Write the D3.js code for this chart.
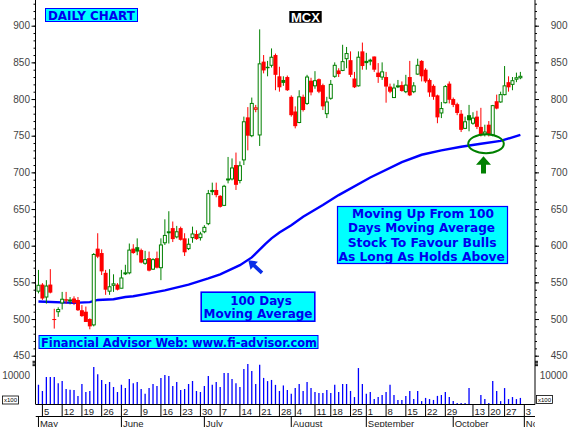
<!DOCTYPE html>
<html>
<head>
  <meta charset="utf-8">
  <title>MCX Daily Chart</title>
  <script src="https://cdnjs.cloudflare.com/ajax/libs/d3/7.8.5/d3.min.js"></script>
  <style>
    body { margin: 0; background: #fff; }
    svg text { font-family: "Liberation Sans", Arial, sans-serif; }
    .box text { font-family: "DejaVu Sans", Verdana, sans-serif; font-weight: bold; fill: #0000ee; }
  </style>
</head>
<body>
<svg id="chart" width="570" height="427"></svg>
<script>
// one entry per trading day, 2 May .. 31 Oct
const openP = [538,547,530,547,500,510,522,527,525,528,526,512,510,500,492,596,590,563,538,546,547,542,562,563,596,598,594,576,583,568,583,570,604,618,624,612,624,610,596,611,616,611,619,630,676,676,668,655,690,691,710,689,717,775,750,786,751,851,844,846,860,831,826,830,803,783,768,803,794,825,818,827,819,780,801,831,839,839,855,853,828,818,865,852,852,858,836,830,830,817,802,817,819,810,830,810,834,852,840,826,818,805,781,795,821,800,793,780,760,778,767,776,762,752,765,751,797,796,806,823,820,827,829];
const highP = [567,549,553,568,514,516,537,537,530,531,530,519,517,501,590,617,595,567,568,561,549,567,574,603,602,610,596,593,592,583,592,610,636,647,633,627,626,617,610,626,621,619,628,676,686,686,669,683,721,719,727,715,776,789,802,792,895,860,852,869,862,844,831,832,805,790,812,806,833,829,838,828,821,803,826,850,842,874,871,865,837,865,877,863,855,858,849,850,837,821,821,826,824,833,852,823,855,853,842,828,820,806,796,819,824,802,795,785,776,792,782,784,788,765,770,792,806,810,845,831,830,836,837];
const lowP = [535,526,521,535,487,503,513,521,520,519,511,503,496,486,490,583,560,533,533,537,539,542,560,561,589,587,576,574,565,567,569,553,601,603,605,610,607,586,594,604,608,607,617,628,669,666,652,654,685,689,676,685,710,730,748,782,736,835,831,843,812,810,818,811,776,760,767,783,792,805,814,808,785,774,799,829,830,838,842,830,815,817,840,840,846,837,822,826,795,808,802,815,810,808,804,808,833,824,822,803,799,767,774,794,794,789,778,755,759,756,765,759,749,749,749,749,786,795,805,810,812,823,827];
const closeP = [546,528,545,536,499,513,527,525,526,522,512,504,496,490,588,585,565,540,544,548,540,556,563,594,590,592,577,581,566,581,570,601,614,619,609,619,608,591,602,616,609,616,625,671,673,669,653,681,691,706,683,709,769,750,794,788,848,839,842,857,833,816,822,812,778,763,803,785,830,809,825,810,790,796,820,846,834,851,862,833,816,857,845,849,853,840,830,837,817,810,815,818,811,819,805,818,846,831,824,809,803,775,787,817,799,792,781,758,769,771,774,762,751,755,751,791,787,806,818,816,825,829,831];
// volume in hundreds of shares
const volume = [6700,4600,9400,9400,9400,7300,8000,5300,5000,4900,2900,7000,4200,4600,12900,10400,8400,7000,7700,6000,4200,6700,5600,8700,7300,7700,5300,3600,5600,7000,6300,9100,10100,9800,6300,7700,4900,5300,7000,8000,4600,4200,6300,9800,6700,7700,6000,10800,10800,8700,7300,6000,12200,13900,11500,7000,13600,9100,8000,8400,6700,4600,6500,4900,3600,5600,7000,4600,7700,5600,4200,3900,3900,4900,3900,6700,4200,7000,7000,4600,2500,12500,7000,3600,4200,1800,2500,3200,4200,6700,3200,1500,1500,2900,4600,1800,4600,1100,2200,1800,1500,2900,3200,4200,2500,1100,450,450,450,5600,0,0,3200,1800,450,8000,4600,1100,5600,1800,2500,1800,2200];

// 100 day moving average, read at a few days
const maDay = [0, 9, 13, 15, 19, 22, 24, 27, 29, 32, 38, 43, 46, 51, 54, 57.4, 59, 61, 64, 67, 72, 76, 84, 92, 97, 102, 107, 112, 117, 122];
const maVal = [524, 522, 523, 526, 527, 530, 531, 534, 536, 539, 547, 555.5, 561, 573.5, 584, 602, 610, 618, 628, 639.5, 655.5, 669, 693, 714, 724, 730, 735, 739, 743, 751];

const priceTicks = [450, 500, 550, 600, 650, 700, 750, 800, 850, 900];
const weekDay = [1, 6, 11, 16, 21, 26, 31, 36, 41, 46, 51, 56, 61, 65, 70, 74, 79, 83, 88, 93, 98, 103, 110, 114, 118, 123];
const weekLbl = ["5","12","19","26","2","9","16","23","30","7","14","21","28","4","11","18","25","1","8","15","22","29","13","20","27","3"];
const monthDay = [0, 21, 42, 64, 83, 105, 123];
const monthLbl = ["May","June","July","August","September","October","November"];

const svg = d3.select("#chart");
const left = 35.5, right = 535;

const x = d3.scaleLinear().domain([-0.75, 125.7]).range([left, right]);
const y = d3.scaleLinear().domain([450, 900]).range([355.7, 25.7]);
const yv = d3.scaleLinear().domain([0, 10000]).range([404.3, 375.3]);

const green = "#008000", red = "#ff0000";

// axes
function priceAxis(axisFn, xpos, anchor, dx) {
  const g = svg.append("g").attr("transform", `translate(${xpos},0)`);
  g.call(axisFn(y).tickValues(d3.range(450, 940, 10)).tickSize(2).tickFormat(""));
  g.call(g2 => g2.select(".domain").remove());
  const gm = svg.append("g").attr("transform", `translate(${xpos},0)`);
  gm.call(axisFn(y).tickValues(priceTicks).tickSize(4).tickFormat(""));
  gm.select(".domain").remove();
  svg.append("g").selectAll("text").data(priceTicks).join("text")
    .attr("x", dx).attr("y", d => y(d) + 3.5)
    .attr("text-anchor", anchor)
    .attr("font-size", 10).attr("fill", "#444")
    .text(d => d);
  // volume axis
  const gv = svg.append("g").attr("transform", `translate(${xpos},0)`);
  gv.call(axisFn(yv).tickValues([10000]).tickSize(4).tickFormat(""));
  gv.call(axisFn(yv).tickValues([13500, 14000, 14500, 15000]).tickSize(3).tickFormat(""));
  gv.selectAll(".domain").remove();
  svg.append("text").attr("x", dx).attr("y", yv(10000) + 3.5)
    .attr("text-anchor", anchor).attr("font-size", 10).attr("fill", "#444")
    .text("10000");
}
priceAxis(d3.axisLeft, left, "end", 30);
priceAxis(d3.axisRight, right, "end", 567.5);

svg.append("line").attr("x1", left).attr("x2", left).attr("y1", 0).attr("y2", 404.5).attr("stroke", "#000");
svg.append("line").attr("x1", right).attr("x2", right).attr("y1", 0).attr("y2", 404.5).attr("stroke", "#000");

// x100 boxes
[[2.5, 396], [536.5, 395.5]].forEach(([bx, by]) => {
  svg.append("rect").attr("x", bx).attr("y", by).attr("width", 16).attr("height", 8)
    .attr("fill", "#fff").attr("stroke", "#000").attr("stroke-width", 0.8);
  svg.append("text").attr("x", bx + 8).attr("y", by + 6.3).attr("text-anchor", "middle")
    .attr("font-size", 6).text("x100");
});

// clip for plot area
svg.append("clipPath").attr("id", "plot").append("rect")
  .attr("x", left).attr("y", 0).attr("width", right - left).attr("height", 405);
svg.append("clipPath").attr("id", "dates").append("rect")
  .attr("x", left).attr("y", 404).attr("width", right - left).attr("height", 23);

const days = d3.range(openP.length);

// volume
svg.append("g").attr("clip-path", "url(#plot)").selectAll("line").data(days).join("line")
  .attr("x1", d => x(d)).attr("x2", d => x(d))
  .attr("y1", yv(0)).attr("y2", d => yv(volume[d]))
  .attr("stroke", "#0000ff").attr("stroke-width", 1.3);

// moving average
svg.append("path")
  .attr("clip-path", "url(#plot)")
  .attr("d", d3.line().x(d => x(maDay[d])).y(d => y(maVal[d]))(d3.range(maDay.length)))
  .attr("fill", "none").attr("stroke", "#0000ff").attr("stroke-width", 2.4);

// candles
const candle = svg.append("g").attr("clip-path", "url(#plot)")
  .selectAll("g").data(days).join("g");
const col = d => (d === 0 || closeP[d] >= closeP[d - 1]) ? green : red;
candle.append("line")
  .attr("x1", d => x(d)).attr("x2", d => x(d))
  .attr("y1", d => y(highP[d])).attr("y2", d => y(lowP[d]))
  .attr("stroke", col).attr("stroke-width", 1);
candle.append("rect")
  .attr("x", d => closeP[d] >= openP[d] ? x(d) - 1.5 : x(d) - 2)
  .attr("width", d => closeP[d] >= openP[d] ? 3 : 4)
  .attr("y", d => y(Math.max(openP[d], closeP[d])))
  .attr("height", d => Math.max(1, Math.abs(y(openP[d]) - y(closeP[d]))))
  .attr("fill", d => closeP[d] >= openP[d] ? "#fff" : col(d))
  .attr("stroke", d => closeP[d] >= openP[d] ? col(d) : "none")
  .attr("stroke-width", 1);

// date rows
const dateG = svg.append("g").attr("clip-path", "url(#dates)");
dateG.append("line").attr("x1", left).attr("x2", right).attr("y1", 404.5).attr("y2", 404.5).attr("stroke", "#000");
dateG.append("line").attr("x1", left).attr("x2", right).attr("y1", 416.5).attr("y2", 416.5).attr("stroke", "#000");
dateG.selectAll(".wk").data(weekDay).join("line").attr("class", "wk")
  .attr("x1", d => x(d)).attr("x2", d => x(d)).attr("y1", 404.5).attr("y2", 416.5).attr("stroke", "#000");
dateG.selectAll(".wkl").data(weekDay).join("text").attr("class", "wkl")
  .attr("x", d => x(d) + 1.5).attr("y", 414.5).attr("font-size", 9.5).attr("fill", "#222")
  .text((d, i) => weekLbl[i]);
dateG.selectAll(".mo").data(monthDay).join("line").attr("class", "mo")
  .attr("x1", d => x(d)).attr("x2", d => x(d)).attr("y1", 416.5).attr("y2", 427).attr("stroke", "#000");
dateG.selectAll(".mol").data(monthDay).join("text").attr("class", "mol")
  .attr("x", d => x(d) + 1.5).attr("y", 426.5).attr("font-size", 9.5).attr("fill", "#222")
  .text((d, i) => monthLbl[i]);

// annotation boxes
function box(bx, by, bw, bh, lines, fs, sw) {
  const g = svg.append("g").attr("class", "box");
  g.append("rect").attr("x", bx).attr("y", by).attr("width", bw).attr("height", bh)
    .attr("fill", "#00ffff").attr("stroke", "#0000ff").attr("stroke-width", sw);
  lines.forEach(([t, cx, base, w]) => {
    g.append("text").attr("x", cx).attr("y", base).attr("text-anchor", "middle")
      .attr("font-size", fs).attr("textLength", w).attr("lengthAdjust", "spacingAndGlyphs")
      .text(t);
  });
  return g;
}
box(45.5, 8.5, 92, 13, [["DAILY CHART", 91.4, 20, 87]], 12.5, 1)
  .select("text").attr("font-weight", "normal");
box(337.5, 206.5, 170, 57, [
  ["Moving Up From 100", 423, 217.7, 142],
  ["Days Moving Average", 421.5, 232.2, 147],
  ["Stock To Favour Bulls", 422.2, 246.6, 149],
  ["As Long As Holds Above", 421.7, 261, 166.5]
], 12, 1.2);
box(201.2, 292.2, 113.6, 29, [
  ["100 Days", 261, 304.5, 61.5],
  ["Moving Average", 258, 317.5, 109]
], 12, 1.6);
box(39, 335.5, 279, 13, [["Financial Advisor Web: www.fi-advisor.com", 179, 346.5, 276]], 12, 1);

// MCX label
svg.append("rect").attr("x", 289.3).attr("y", 11).attr("width", 32.4).attr("height", 11.7).attr("fill", "#000");
svg.append("text").attr("x", 305.5).attr("y", 21.6).attr("text-anchor", "middle")
  .attr("font-family", "DejaVu Sans").attr("font-weight", "bold").attr("font-size", 12)
  .attr("textLength", 29).attr("lengthAdjust", "spacingAndGlyphs")
  .attr("fill", "#fff").text("MCX");

// arrows
function arrow(tip, tail, headLen, headW, shaftW, fill) {
  const dx = tail[0] - tip[0], dy = tail[1] - tip[1];
  const len = Math.hypot(dx, dy), ux = dx / len, uy = dy / len;
  const px = -uy, py = ux;
  const b = [tip[0] + ux * headLen, tip[1] + uy * headLen];
  const pts = [
    tip,
    [b[0] + px * headW / 2, b[1] + py * headW / 2],
    [b[0] + px * shaftW / 2, b[1] + py * shaftW / 2],
    [tail[0] + px * shaftW / 2, tail[1] + py * shaftW / 2],
    [tail[0] - px * shaftW / 2, tail[1] - py * shaftW / 2],
    [b[0] - px * shaftW / 2, b[1] - py * shaftW / 2],
    [b[0] - px * headW / 2, b[1] - py * headW / 2]
  ];
  svg.append("polygon").attr("points", pts.map(p => p.join(",")).join(" ")).attr("fill", fill);
}
arrow([248.3, 260.3], [262, 272.8], 8, 11, 3.6, "#0a2ee8");
arrow([483.5, 156.3], [483.5, 173.5], 8.5, 15, 5, green);

// ellipse round the bounce
svg.append("ellipse").attr("cx", x(113.3)).attr("cy", y(739)).attr("rx", 17.8).attr("ry", 9.5)
  .attr("fill", "none").attr("stroke", green).attr("stroke-width", 2);
</script>
</body>
</html>
